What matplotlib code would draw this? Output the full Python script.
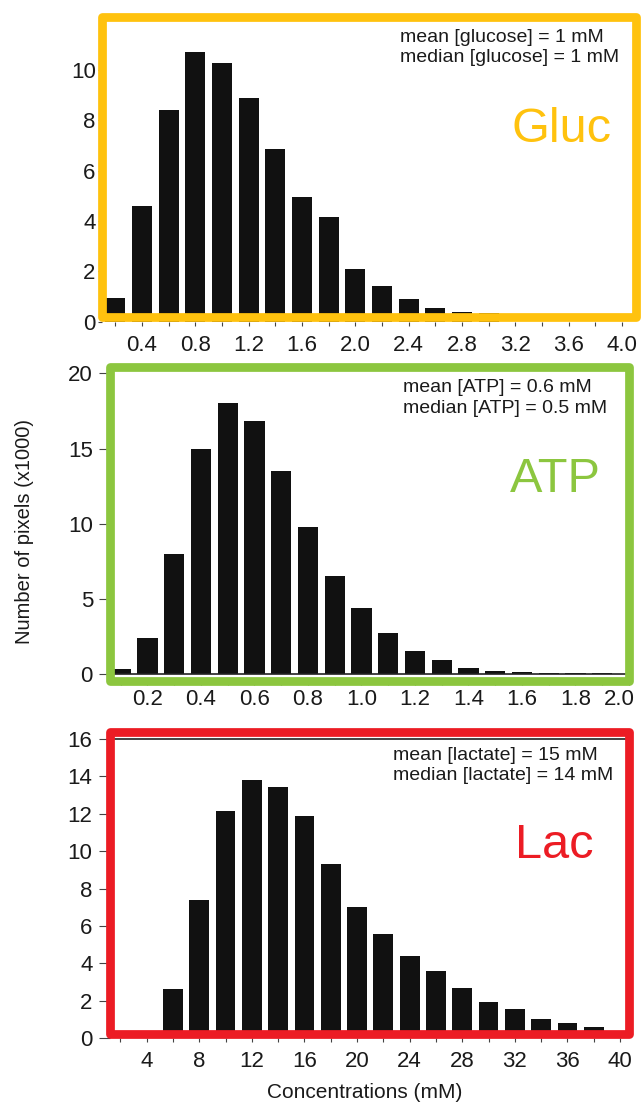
import matplotlib
matplotlib.use('Agg')
import matplotlib.pyplot as plt
from matplotlib.patches import Rectangle
from matplotlib.ticker import MultipleLocator
from matplotlib.transforms import ScaledTranslation

plt.rcParams['font.family'] = ['Liberation Sans', 'DejaVu Sans']

W, H = 641, 1103

# histogram data (counts in thousands of pixels)
gluc_mm = [0.2, 0.4, 0.6, 0.8, 1.0, 1.2, 1.4, 1.6, 1.8, 2.0, 2.2, 2.4, 2.6, 2.8, 3.0]
gluc_counts = [0.95, 4.6, 8.4, 10.7, 10.3, 8.9, 6.85, 4.95, 4.15, 2.1, 1.4, 0.9, 0.55, 0.38, 0.34]
gluc_ticks = [0.4, 0.8, 1.2, 1.6, 2.0, 2.4, 2.8, 3.2, 3.6, 4.0]
gluc_yticks = [0, 2, 4, 6, 8, 10]

atp_mm = [0.1, 0.2, 0.3, 0.4, 0.5, 0.6, 0.7, 0.8, 0.9, 1.0,
          1.1, 1.2, 1.3, 1.4, 1.5, 1.6, 1.7, 1.8, 1.9]
atp_counts = [0.35, 2.4, 8.0, 15.0, 18.05, 16.8, 13.5, 9.8, 6.55, 4.4,
              2.7, 1.55, 0.92, 0.4, 0.18, 0.12, 0.07, 0.05, 0.05]
atp_ticks = [0.2, 0.4, 0.6, 0.8, 1.0, 1.2, 1.4, 1.6, 1.8, 2.0]
atp_yticks = [0, 5, 10, 15, 20]

lac_mm = [6, 8, 10, 12, 14, 16, 18, 20, 22, 24, 26, 28, 30, 32, 34, 36, 38]
lac_counts = [2.63, 7.41, 12.14, 13.81, 13.42, 11.86, 9.3, 6.99, 5.55,
              4.41, 3.57, 2.67, 1.96, 1.56, 1.03, 0.8, 0.59]
lac_ticks = [4, 8, 12, 16, 20, 24, 28, 32, 36, 40]
lac_yticks = [0, 2, 4, 6, 8, 10, 12, 14, 16]

GOLD = '#FFC20E'
GREEN = '#8CC63F'
RED = '#EC1C24'
INK = '#1a1a1a'
TICK_FS = 16

fig = plt.figure(figsize=(W / 100, H / 100), dpi=100)


def px_axes(left, right, top, bottom):
    return fig.add_axes([left / W, 1 - bottom / H, (right - left) / W, (bottom - top) / H])


def px_text(x, y, s, **kw):
    return fig.text(x / W, 1 - y / H, s, **kw)


def panel(rect, xlim, ylim, x, counts, width, xticks, fmt, minor, yticks,
          color, box_bottom, xpad, ylen, ypad):
    ax = px_axes(*rect)
    ax.bar(x, counts, width=width, color='#111111', zorder=2)
    ax.set_xlim(*xlim)
    ax.set_ylim(*ylim)
    ax.set_xticks(xticks)
    ax.set_xticklabels([fmt.format(t) for t in xticks])
    ax.xaxis.set_minor_locator(MultipleLocator(minor))
    ax.set_yticks(yticks)
    for s in ax.spines.values():
        s.set_visible(False)
    ax.tick_params(axis='x', which='both', direction='out', length=3, width=0.8,
                   color='#444444', pad=xpad, labelsize=TICK_FS, labelcolor=INK)
    ax.tick_params(axis='y', direction='out', length=ylen, width=0.8,
                   color='#444444', pad=ypad, labelsize=TICK_FS, labelcolor=INK)
    ax.patch.set_alpha(0)
    # coloured frame drawn over the scanned plot area
    ax.add_patch(Rectangle((0, box_bottom), 1, 1 - box_bottom, transform=ax.transAxes,
                           fill=False, edgecolor=color, lw=6.3, joinstyle='round',
                           clip_on=False, zorder=5))
    return ax


ax1 = panel((101.5, 636, 16.5, 321.7), (0.0975, 4.104), (0, 12.13),
            gluc_mm, gluc_counts, 0.15, gluc_ticks, '{:.1f}', 0.2, gluc_yticks,
            GOLD, 0.0154, 6.3, 3, 1.2)

ax2 = panel((109.5, 629, 367.5, 680.5), (0.058, 1.987), (-0.43, 20.39),
            atp_mm, atp_counts, 0.076, atp_ticks, '{:.1f}', 0.1, atp_yticks,
            GREEN, 0.0, 3.2, 7.6, 4.3)
ax2.axhline(0, color='#222222', lw=1.2, zorder=3)
last = ax2.get_xticklabels()[-1]
last.set_transform(last.get_transform() + ScaledTranslation(-0.1, 0, fig.dpi_scale_trans))

ax3 = panel((109.7, 629, 732, 1038.3), (1.19, 40.68), (0, 16.36),
            lac_mm, lac_counts, 1.5, lac_ticks, '{:d}', 2, lac_yticks,
            RED, 0.014, 6.2, 8, 4.3)
ax3.axhline(16, color='#222222', lw=1.2, zorder=3)

# summary statistics
px_text(400, 41.7, 'mean [glucose] = 1 mM', fontsize=14, color=INK, va='baseline')
px_text(400, 61.7, 'median [glucose] = 1 mM', fontsize=14, color=INK, va='baseline')
px_text(402.6, 392.3, 'mean [ATP] = 0.6 mM', fontsize=14, color=INK, va='baseline')
px_text(402.6, 413.3, 'median [ATP] = 0.5 mM', fontsize=14, color=INK, va='baseline')
px_text(393, 760, 'mean [lactate] = 15 mM', fontsize=14, color=INK, va='baseline')
px_text(393, 780, 'median [lactate] = 14 mM', fontsize=14, color=INK, va='baseline')

# metabolite names
px_text(511, 141.7, 'Gluc', fontsize=35, color=GOLD, va='baseline')
px_text(510, 491.7, 'ATP', fontsize=35, color=GREEN, va='baseline')
px_text(515, 858, 'Lac', fontsize=35, color=RED, va='baseline')

px_text(25, 531, 'Number of pixels (x1000)', fontsize=14.5, color=INK,
        rotation=90, ha='center', va='center')
px_text(365, 1098, 'Concentrations (mM)', fontsize=15, color=INK,
        ha='center', va='baseline')

fig.savefig('out.png', dpi=100)
